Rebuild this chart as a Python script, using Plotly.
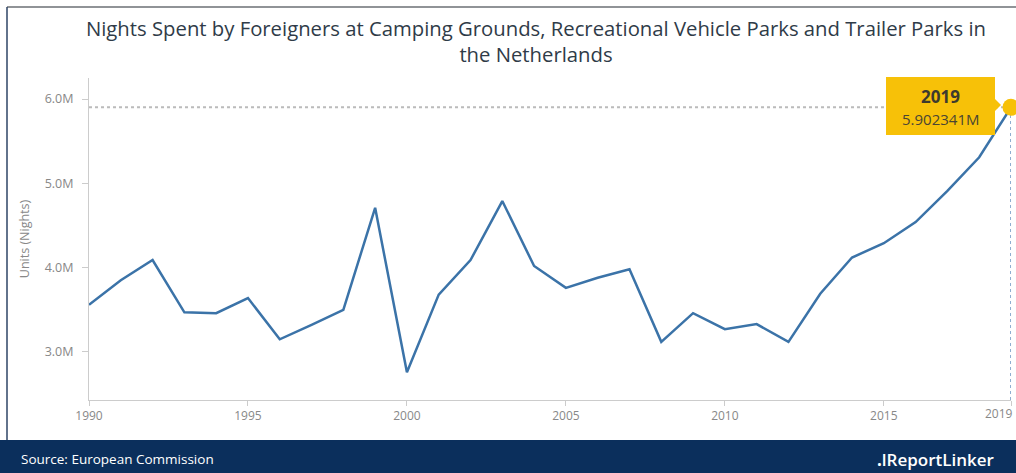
import plotly.graph_objects as go

years = list(range(1990, 2020))
nights_m = [3.56, 3.85, 4.09, 3.47, 3.46, 3.64, 3.15, 3.32, 3.50, 4.71,
            2.76, 3.68, 4.09, 4.79, 4.02, 3.76, 3.88, 3.98, 3.12, 3.46,
            3.27, 3.33, 3.12, 3.69, 4.12, 4.29, 4.54, 4.91, 5.31, 5.902341]
values = [v * 1e6 for v in nights_m]

title_text = ("Nights Spent by Foreigners at Camping Grounds, Recreational Vehicle Parks and Trailer Parks in"
              "<br>the Netherlands")
y_title = "Units (Nights)"
x_ticks = [1990, 1995, 2000, 2005, 2010, 2015, 2019]
y_ticks = [3e6, 4e6, 5e6, 6e6]
y_tick_labels = ["3.0M", "4.0M", "5.0M", "6.0M"]
source_text = "Source: European Commission"
brand_text = "<b>.</b>lReportLinker"

W, H = 1016, 473
ML, MR, MT, MB = 89, 5, 78, 73
pw, ph = W - ML - MR, H - MT - MB

def px_x(p):
    return (p - ML) / pw

def px_y(p):
    return (H - MB - p) / ph

last_x, last_y = years[-1], values[-1]
gold = "#F7C108"
y_lo, y_hi = 2.43e6, 6.25e6
tick_font = dict(family="Open Sans", size=12, color="#888888")

# last x tick label is drawn right-aligned so it stays inside the page
x_ticktext = [str(t) for t in x_ticks[:-1]] + [""]

fig = go.Figure()
fig.add_trace(go.Scatter(
    x=years, y=values, mode="lines",
    line=dict(color="#3B73A8", width=2.5),
    hoverinfo="skip", showlegend=False, cliponaxis=False,
))
fig.add_trace(go.Scatter(
    x=[last_x], y=[last_y], mode="markers",
    marker=dict(color=gold, size=17),
    hoverinfo="skip", showlegend=False, cliponaxis=False,
))

shapes = [
    dict(type="line", xref="x", yref="y", x0=years[0], x1=last_x, y0=last_y, y1=last_y,
         line=dict(color="#BBBBBB", width=2, dash="dot"), layer="below"),
    dict(type="line", xref="x", yref="y", x0=last_x, x1=last_x, y0=y_lo, y1=last_y,
         line=dict(color="#8FAFD0", width=2, dash="dot"), layer="below"),
    # frame
    dict(type="line", xref="paper", yref="paper", x0=px_x(7), x1=px_x(W + 5), y0=px_y(7), y1=px_y(7),
         line=dict(color="#6B6F75", width=1.5)),
    dict(type="line", xref="paper", yref="paper", x0=px_x(7), x1=px_x(7), y0=px_y(7), y1=px_y(440),
         line=dict(color="#2E4566", width=1.5)),
    # footer
    dict(type="rect", xref="paper", yref="paper", x0=px_x(0), x1=px_x(W + 2), y0=px_y(440), y1=px_y(H + 2),
         fillcolor="#0B2F5C", line=dict(width=0)),
    # tooltip box
    dict(type="rect", xref="paper", yref="paper", x0=px_x(886), x1=px_x(995), y0=px_y(77), y1=px_y(135),
         fillcolor=gold, line=dict(width=0)),
    dict(type="path", xref="paper", yref="paper",
         path=f"M {px_x(994)} {px_y(98)} L {px_x(1001)} {px_y(105)} L {px_x(994)} {px_y(112)} Z",
         fillcolor=gold, line=dict(width=0)),
]

annotations = [
    dict(xref="paper", yref="paper", x=px_x(940), y=px_y(96), text=f"<b>{last_x}</b>", showarrow=False,
         font=dict(family="Open Sans", size=17, color="#3D3A2E"), xanchor="center", yanchor="middle"),
    dict(xref="paper", yref="paper", x=px_x(940), y=px_y(119), text=f"{last_y/1e6:.6f}M", showarrow=False,
         font=dict(family="Open Sans", size=15, color="#4A4533"), xanchor="center", yanchor="middle"),
    dict(xref="paper", yref="paper", x=px_x(19), y=px_y(459), text=source_text, showarrow=False,
         font=dict(family="Open Sans", size=13.5, color="#FFFFFF"), xanchor="left", yanchor="middle"),
    dict(xref="paper", yref="paper", x=px_x(997), y=px_y(459), text=brand_text, showarrow=False,
         font=dict(family="Open Sans", size=17, color="#FFFFFF", weight=600), xanchor="right", yanchor="middle"),
    dict(xref="paper", yref="paper", x=px_x(1015), y=px_y(413), text=str(x_ticks[-1]), showarrow=False,
         font=tick_font, xanchor="right", yanchor="middle"),
]

fig.update_layout(
    width=W, height=H,
    margin=dict(l=ML, r=MR, t=MT, b=MB, pad=0, autoexpand=False),
    paper_bgcolor="white", plot_bgcolor="white",
    title=dict(text=title_text, x=536 / W, xref="container", xanchor="center", y=1 - 36 / H, yanchor="middle",
               font=dict(family="Open Sans", size=20.3, color="#2F3B48")),
    xaxis=dict(range=[1990, 2019], tickmode="array", tickvals=x_ticks, ticktext=x_ticktext,
               showgrid=False, zeroline=False, showline=True, linecolor="#CCCCCC", linewidth=1,
               ticks="outside", ticklen=5, tickcolor="#CCCCCC", automargin=False,
               tickfont=tick_font),
    yaxis=dict(range=[y_lo, y_hi], tickmode="array", tickvals=y_ticks, ticktext=y_tick_labels,
               showgrid=False, zeroline=False, showline=True, linecolor="#CCCCCC", linewidth=1,
               ticks="outside", ticklen=6, tickcolor="#CCCCCC", ticklabelstandoff=6, automargin=False,
               tickfont=dict(family="Open Sans", size=12.5, color="#888888"),
               title=dict(text=y_title, font=dict(family="Open Sans", size=12.5, color="#888888"), standoff=12)),
    shapes=shapes, annotations=annotations,
)

fig.write_html("out.html", config={"displayModeBar": False},
               post_script="document.body.style.margin='0';document.body.style.overflow='hidden';")
